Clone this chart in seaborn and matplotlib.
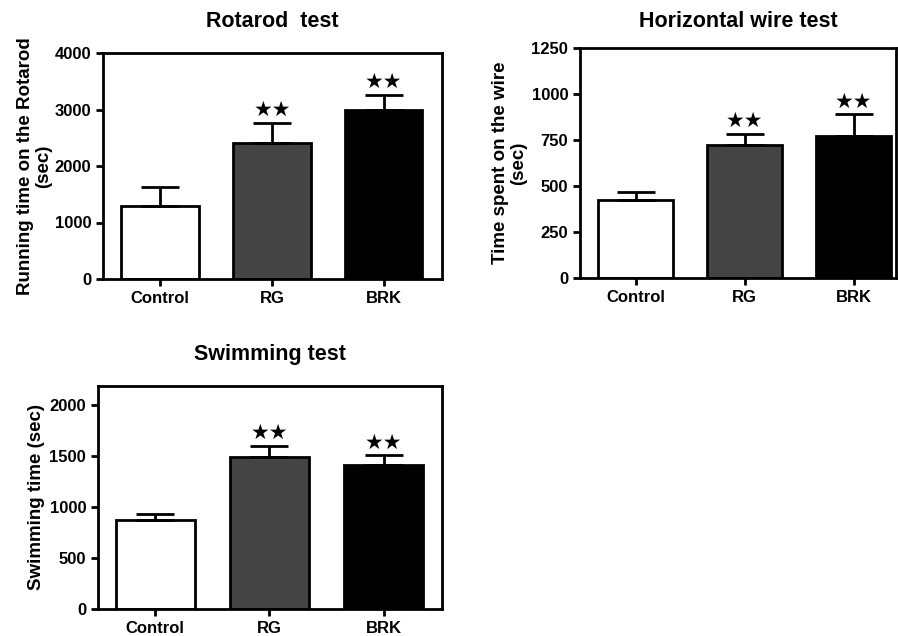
import numpy as np
import pandas as pd
import matplotlib
matplotlib.use("Agg")
import matplotlib.pyplot as plt
import seaborn as sns

sns.set_style("ticks")
plt.rcParams['font.family'] = ['Liberation Sans', 'DejaVu Sans']
plt.rcParams['font.weight'] = 'bold'
for k in ['text.color', 'axes.labelcolor', 'xtick.color', 'ytick.color', 'axes.edgecolor']:
    plt.rcParams[k] = 'black'

groups = ['Control', 'RG', 'BRK']
bar_colors = ['white', '#444444', 'black']

rotarod_mean = [1300, 2400, 3000]
rotarod_sem = [320, 360, 260]
wire_mean = [425, 725, 770]
wire_sem = [45, 60, 120]
swim_mean = [870, 1490, 1410]
swim_sem = [65, 110, 100]
stars = ['', '★★', '★★']

W, H = 898, 636
fig = plt.figure(figsize=(W / 100, H / 100), dpi=100)


def px_axes(left, top, right, bottom):
    return fig.add_axes([left / W, 1 - bottom / H, (right - left) / W, (bottom - top) / H])


def draw(ax, means, sems, title, ylabel, ylim, yticks, xlim, title_pad, ylab_size, ylab_x):
    df = pd.DataFrame({'group': groups, 'value': means})
    sns.barplot(data=df, x='group', y='value', hue='group', palette=bar_colors,
                order=groups, width=0.69, edgecolor='black', linewidth=2,
                legend=False, ax=ax)
    # upward-only error bars
    ax.errorbar(range(len(groups)), means, yerr=[np.zeros(len(sems)), sems],
                fmt='none', ecolor='black', elinewidth=2, capsize=14, capthick=2)
    for i, (m, s, st) in enumerate(zip(means, sems, stars)):
        if st:
            ax.annotate(st, (i, m + s), xytext=(0, 2), textcoords='offset points',
                        ha='center', va='bottom', fontsize=15, color='black',
                        family=['DejaVu Sans'])
    ax.set_ylim(*ylim)
    ax.set_yticks(yticks)
    ax.set_xlim(*xlim)
    ax.set_xlabel('')
    ax.set_ylabel(ylabel, fontsize=ylab_size, fontweight='bold', linespacing=1.1)
    ax.yaxis.set_label_coords(ylab_x, 0.5)
    ax.set_title(title, fontsize=15.5, fontweight='bold', pad=title_pad)
    ax.tick_params(axis='both', labelsize=12, width=2, length=5, direction='out')
    for lab in ax.get_xticklabels() + ax.get_yticklabels():
        lab.set_fontweight('bold')
    for sp in ax.spines.values():
        sp.set_linewidth(2)
        sp.set_visible(True)


ax1 = px_axes(103, 53, 442, 279)
draw(ax1, rotarod_mean, rotarod_sem, 'Rotarod  test',
     'Running time on the Rotarod\n(sec)', (0, 4000), [0, 1000, 2000, 3000, 4000],
     (-0.51, 2.52), 19, 13.5, -0.150)

ax2 = px_axes(580, 48, 896, 278)
draw(ax2, wire_mean, wire_sem, 'Horizontal wire test',
     'Time spent on the wire\n(sec)', (0, 1250), [0, 250, 500, 750, 1000, 1250],
     (-0.51, 2.39), 15, 13.5, -0.168)

ax3 = px_axes(98, 386, 442, 609)
draw(ax3, swim_mean, swim_sem, 'Swimming test',
     'Swimming time (sec)', (0, 2190), [0, 500, 1000, 1500, 2000],
     (-0.50, 2.51), 19, 13.5, -0.154)

fig.savefig('out.png', dpi=100)
